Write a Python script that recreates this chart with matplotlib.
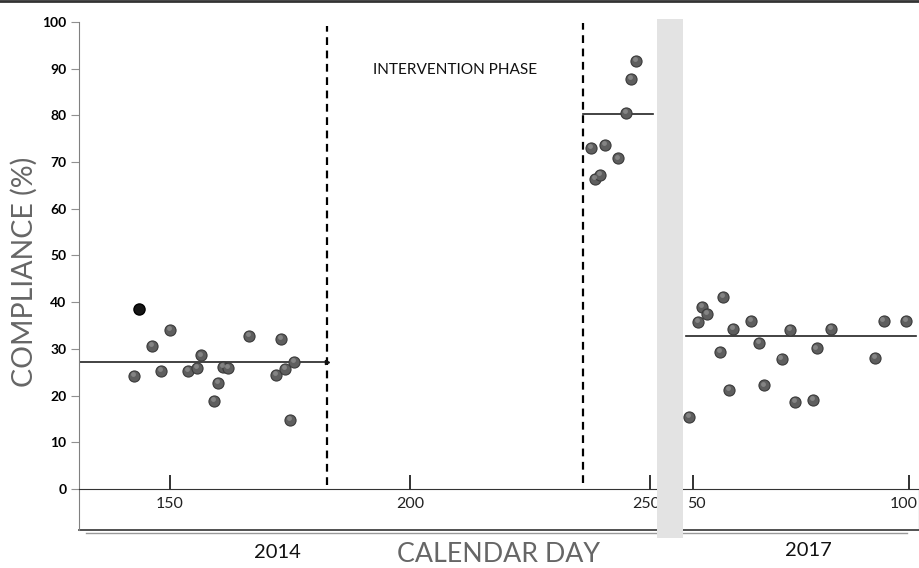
import matplotlib
matplotlib.use('Agg')
import matplotlib.pyplot as plt
import matplotlib.transforms as mtransforms
from matplotlib.patches import Rectangle
from matplotlib.lines import Line2D

plt.rcParams['font.family'] = ['Lato', 'DejaVu Sans']

# Données
# 2014 (avant intervention)
jour_2014 = [142.6, 146.3, 148.1, 150.0, 153.7, 155.6, 156.4, 159.2, 160.1,
             161.0, 162.1, 166.5, 172.1, 173.1, 174.0, 175.0, 175.8]
compl_2014 = [24.2, 30.6, 25.3, 34.0, 25.3, 26.0, 28.6, 18.9, 22.8,
              26.2, 25.9, 32.8, 24.5, 32.1, 25.7, 14.8, 27.3]
jour_noir = [143.5]
compl_noir = [38.5]
moy_2014 = 27.3

# phase d'intervention
jour_int = [237.8, 238.6, 239.6, 240.6, 243.3, 245.1, 246.0, 247.1]
compl_int = [73.0, 66.4, 67.2, 73.6, 70.8, 80.6, 87.9, 91.6]
moy_int = 80.3

# 2017
jour_2017 = [49.1, 51.1, 52.1, 53.2, 56.3, 57.0, 58.3, 59.2, 63.4, 65.3,
             66.4, 70.5, 72.5, 73.6, 77.8, 78.6, 81.9, 92.1, 94.1, 99.3]
compl_2017 = [15.5, 35.7, 39.0, 37.5, 29.3, 41.1, 21.3, 34.2, 36.0, 31.3,
              22.2, 27.9, 34.0, 18.7, 19.1, 30.1, 34.3, 28.1, 36.0, 36.0]
moy_2017 = 32.8

debut_int = 182.7
fin_int = 236.0

ticks_2014 = [150, 200, 250]
ticks_2017 = [50, 100]
ticks_y = list(range(0, 101, 10))

W, H = 920, 568
ybas = -8.78

fig = plt.figure(figsize=(W/100, H/100), dpi=100)
ax1 = fig.add_axes([79/W, 38/H, (657-79)/W, 508/H])
ax2 = fig.add_axes([683/W, 38/H, (919-683)/W, 508/H])

#Style des points (sphere grise + petit reflet)
style_pt = dict(linestyle='none', marker='o', markersize=8,
                markerfacecolor='#5e5e5e', markeredgecolor='#3a3a3a',
                markeredgewidth=0.8, zorder=3)
style_reflet = dict(linestyle='none', marker='o', markersize=3.5,
                    markerfacecolor='#8e8e8e', markeredgecolor='none',
                    alpha=0.8, zorder=4)

def points(ax, x, y):
    ax.plot(x, y, **style_pt)
    tr = mtransforms.offset_copy(ax.transData, fig=fig, x=-1.2, y=1.8, units='dots')
    ax.plot(x, y, transform=tr, **style_reflet)

for ax in (ax1, ax2):
    ax.set_ylim(ybas, 100)
    ax.spines['top'].set_visible(False)
    ax.spines['bottom'].set_position(('data', 0))
    ax.spines['bottom'].set_color('#333333')
    ax.tick_params(axis='x', direction='in', length=10, width=1.3,
                   color='#222222', labelsize=11.5, pad=6, labelcolor='#222222')
    # bas du cadre
    ax.plot([0, 1], [0, 0], transform=ax.transAxes, color='#333333',
            lw=1.2, clip_on=False)

# partie 2014 + intervention
ax1.set_xlim(131.04, 251.46)
ax1.spines['right'].set_visible(False)
ax1.spines['left'].set_color('#808080')
ax1.set_xticks(ticks_2014)
ax1.set_yticks(ticks_y)
ax1.tick_params(axis='y', direction='out', length=6, width=0.8,
                color='#909090', labelsize=10, pad=3)
for lab in ax1.get_yticklabels():
    lab.set_fontweight('bold')

ax1.vlines([debut_int], 0.9, 99.1, colors='black', linestyles=(0, (3.5, 2.5)), lw=1.6)
ax1.vlines([fin_int], 1.3, 99.8, colors='black', linestyles=(0, (3.5, 2.5)), lw=1.6)

ax1.plot([131.04, debut_int], [moy_2014, moy_2014], color='#222222', lw=1.2)
ax1.plot([debut_int], [moy_2014], marker='>', markersize=3, color='#111111')
ax1.plot([fin_int, 250.7], [moy_int, moy_int], color='#222222', lw=1.2)

points(ax1, jour_2014, compl_2014)
ax1.plot(jour_noir, compl_noir, linestyle='none', marker='o', markersize=8,
         markerfacecolor='#151515', markeredgecolor='#000000', zorder=3)
points(ax1, jour_int, compl_int)

# partie 2017
ax2.set_xlim(47.69, 102.31)
ax2.spines['left'].set_visible(False)
ax2.spines['right'].set_bounds(ybas, 0)
ax2.spines['right'].set_color('#333333')
ax2.set_xticks(ticks_2017)
ax2.set_yticks([])
ax2.plot([48.4, 101.6], [moy_2017, moy_2017], color='#222222', lw=1.2)
points(ax2, jour_2017, compl_2017)

# petits decalages des etiquettes pres des bords
fig.canvas.draw()
def decale(lab, dx):
    lab.set_transform(lab.get_transform() +
                      mtransforms.ScaledTranslation(dx/100, 0, fig.dpi_scale_trans))
decale(ax1.get_xticklabels()[2], -4)
decale(ax2.get_xticklabels()[0], 3)
decale(ax2.get_xticklabels()[1], -5)

# bande grise de separation
fig.add_artist(Rectangle((657/W, 1-538/H), 26/W, (538-19)/H,
                         facecolor='#e3e3e3', edgecolor='none', zorder=10))
# ligne sous le cadre et bordure du haut
fig.add_artist(Line2D([86/W, 907/W], [1-533/H, 1-533/H], color='#999999', lw=1))
fig.add_artist(Line2D([0, 1], [1-1/H, 1-1/H], color='#333333', lw=2))

fig.text(455/W, 1-70/H, 'INTERVENTION PHASE', ha='center', va='center',
         fontsize=11.1, color='#111111')
fig.text(277/W, 1-552/H, '2014', ha='center', va='center', fontsize=14.5, color='#111111')
fig.text(808/W, 1-551/H, '2017', ha='center', va='center', fontsize=14.5, color='#111111')
fig.text(499/W, 1-555/H, 'CALENDAR DAY', ha='center', va='center', fontsize=19.3, color='#666666')
fig.text(24/W, 1-272/H, 'COMPLIANCE (%)', ha='center', va='center', rotation=90,
         fontsize=20.5, color='#666666')

fig.savefig('out.png', dpi=100)
